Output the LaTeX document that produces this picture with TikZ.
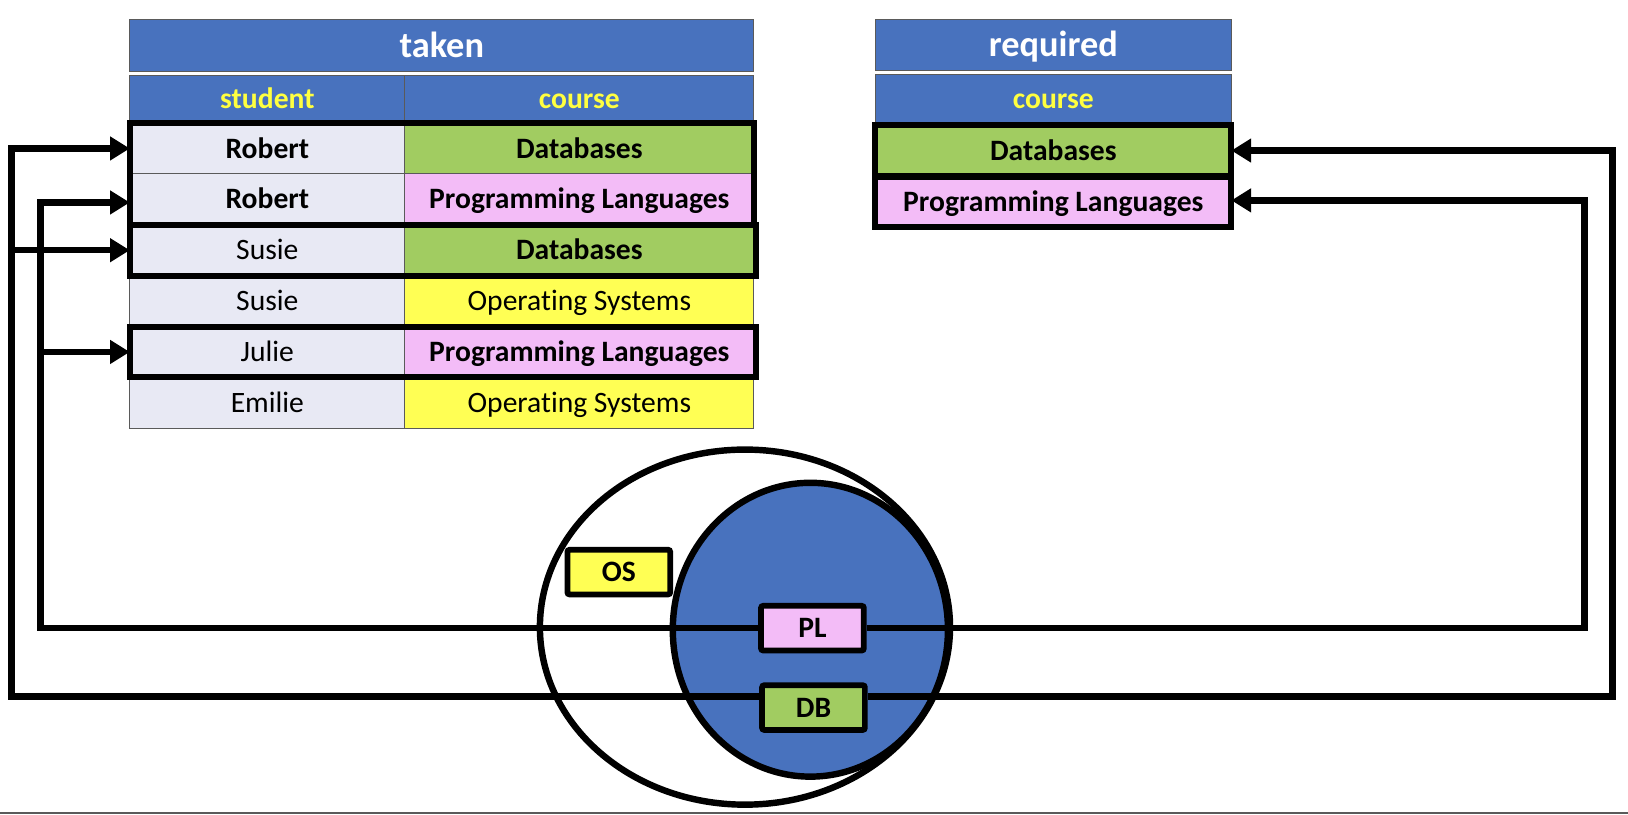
\documentclass[tikz,border=0pt]{standalone}
\usepackage{fontspec}
\setmainfont{Carlito}[Ligatures=NoCommon]
\usetikzlibrary{arrows.meta}

\definecolor{hdrblue}{RGB}{72,114,190}
\definecolor{lavender}{RGB}{232,233,244}
\definecolor{dbgreen}{RGB}{161,204,97}
\definecolor{plpink}{RGB}{243,188,247}
\definecolor{osyellow}{RGB}{255,255,84}
\definecolor{hdryellow}{RGB}{255,255,64}
\definecolor{rule}{RGB}{90,90,90}

\begin{document}
\begin{tikzpicture}[x=1pt,y=-1pt,
  cell/.style={draw=rule,line width=1pt,anchor=north west,inner sep=0pt,outer sep=0pt,minimum height=49pt,text height=18.5pt,text depth=0pt,font=\fontsize{28.5}{34}\selectfont},
  strong/.style={font=\fontsize{28.5}{34}\selectfont\bfseries},
  scol/.style={cell,fill=lavender,minimum width=265pt},
  ccol/.style={cell,minimum width=336pt},
  hdr/.style={cell,fill=hdrblue,text=hdryellow,strong,minimum height=45pt},
  tbltitle/.style={cell,fill=hdrblue,text=white,font=\fontsize{35}{40}\selectfont\bfseries,minimum height=50pt,text height=22pt},
  hl/.style={draw=black,line width=5.8pt},
  setbox/.style={draw=black,line width=5.5pt,rounded corners=2pt,inner sep=0pt,minimum width=99pt,minimum height=43pt,text height=18.5pt,text depth=0pt,strong},
  link/.style={line width=6.2pt,-{Triangle[length=19pt,width=22pt]}}]
  \useasboundingbox (0,0) rectangle (1568,784);

  % Table taken
  \node[tbltitle,minimum width=601pt] (taken) at (125,19) {taken};
  \node[hdr,minimum width=265pt] (hs) at (125,73) {student};
  \node[hdr,minimum width=336pt] (hc) at (390,73) {course};

  \node[scol,strong] (r1s) at (125,118.5) {Robert};
  \node[ccol,fill=dbgreen,strong] (r1c) at (390,118.5) {Databases};
  \node[scol,strong] (r2s) at (125,167.5) {Robert};
  \node[ccol,fill=plpink,strong] (r2c) at (390,167.5) {Programming Languages};
  \node[scol] (r3s) at (125,216.5) {Susie};
  \node[ccol,fill=dbgreen,strong] (r3c) at (390,216.5) {Databases};
  \node[scol] (r4s) at (125,265.5) {Susie};
  \node[ccol,fill=osyellow] (r4c) at (390,265.5) {Operating Systems};
  \node[scol] (r5s) at (125,314.5) {Julie};
  \node[ccol,fill=plpink,strong] (r5c) at (390,314.5) {Programming Languages};
  \node[scol] (r6s) at (125,363.5) {Emilie};
  \node[ccol,fill=osyellow] (r6c) at (390,363.5) {Operating Systems};

  % Selected rows
  \draw[hl] (r1s.north west) rectangle (r2c.south east);
  \draw[hl] (r3s.north west) rectangle ([xshift=2pt]r3c.south east);
  \draw[hl] (r5s.north west) rectangle ([xshift=2pt]r5c.south east);

  % Table required
  \node[tbltitle,minimum width=343pt,minimum height=49pt] (required) at (843,19) {required};
  \node[hdr,minimum width=343pt,minimum height=47pt] (qh) at (843,72) {course};
  \node[ccol,minimum width=343pt,fill=dbgreen,strong] (qdb) at (843,120.5) {Databases};
  \node[ccol,minimum width=343pt,fill=plpink,strong] (qpl) at (843,170) {Programming Languages};
  \draw[hl] (qdb.north west) rectangle (qdb.south east);
  \draw[hl] (qpl.north west) rectangle (qpl.south east);

  % Sets
  \draw[line width=6.2pt] (717.5,604) ellipse [x radius=197.5pt,y radius=171pt];
  \draw[line width=6.2pt,fill=hdrblue] (780.5,606.5) ellipse [x radius=132.5pt,y radius=141.5pt];
  \node[setbox,fill=osyellow] (os) at (596,551) {OS};
  \node[setbox,fill=plpink] (pl) at (782.5,605) {PL};
  \node[setbox,fill=dbgreen] (db) at (783.5,681.5) {DB};

  % Links
  \coordinate (dbL) at (11,671);
  \coordinate (plL) at (39,605);
  \coordinate (plR) at (1526,605);
  \coordinate (dbR) at (1553,671);
  \draw[link] ([yshift=10.5pt]db.west) -- (dbL) |- (r1s.west);
  \draw[link] (dbL |- r3s.west) -- (r3s.west);
  \draw[link] (pl.west) -- (plL) |- ([yshift=-3pt]r2s.west);
  \draw[link] (plL |- r5s.west) -- (r5s.west);
  \draw[link] (pl.east) -- (plR) |- ([yshift=1.5pt]qpl.east);
  \draw[link] ([yshift=10.5pt]db.east) -- (dbR) |- (qdb.east);

  \draw[rule,line width=1.6pt] (0,783.2) -- (1568,783.2);
\end{tikzpicture}
\end{document}
